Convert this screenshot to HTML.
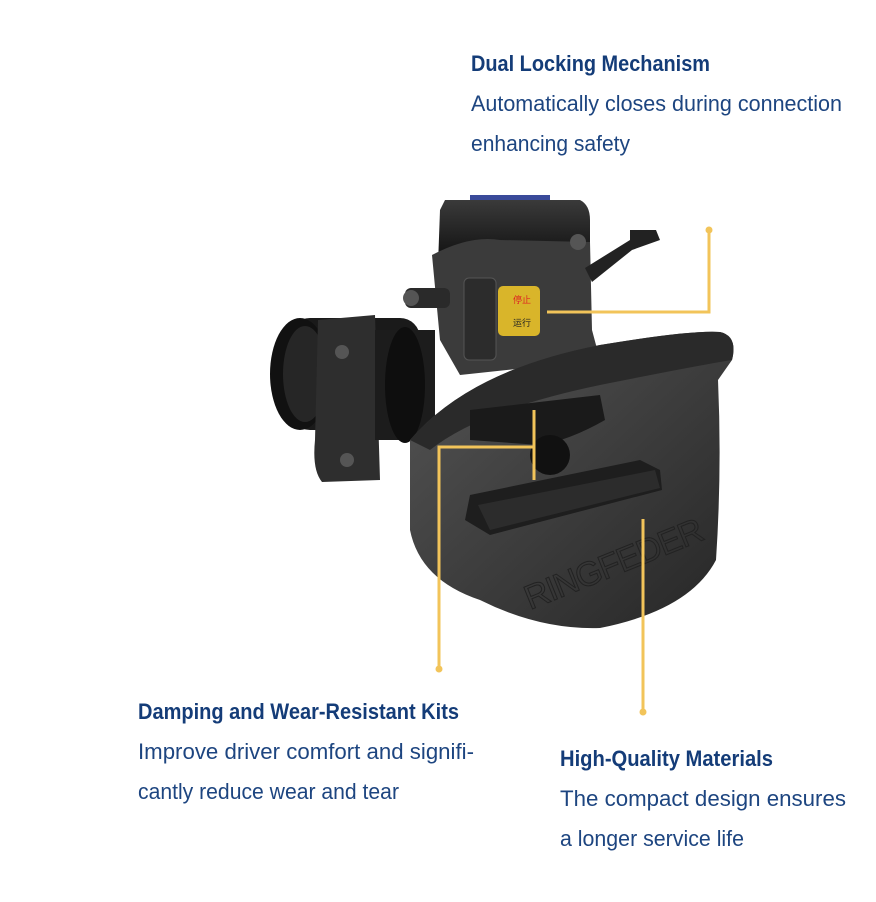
<!DOCTYPE html>
<html><head><meta charset="utf-8"><style>
html,body{margin:0;padding:0;background:#fff;}
svg{display:block}
.h{font-family:"Liberation Sans",sans-serif;font-weight:bold;font-size:22px;fill:#143c78}
.b{font-family:"Liberation Sans",sans-serif;font-size:22px;fill:#1d4580}
</style></head><body>
<svg width="876" height="902" viewBox="0 0 876 902" xmlns="http://www.w3.org/2000/svg">
<defs>
<linearGradient id="g1" x1="0" y1="0" x2="1" y2="1"><stop offset="0" stop-color="#555"/><stop offset="1" stop-color="#262626"/></linearGradient>
<linearGradient id="g2" x1="0" y1="0" x2="0" y2="1"><stop offset="0" stop-color="#3a3a3a"/><stop offset="1" stop-color="#0d0d0d"/></linearGradient>
</defs>
<rect x="290" y="318" width="130" height="112" rx="20" fill="#1a1a1a"/>
<ellipse cx="300" cy="374" rx="30" ry="56" fill="#111"/>
<ellipse cx="305" cy="374" rx="22" ry="48" fill="#262626"/>
<path d="M318 320 L375 315 L380 480 L322 482 Q312 470 315 440 L318 320Z" fill="#2e2e2e"/>
<circle cx="342" cy="352" r="7" fill="#555"/><circle cx="347" cy="460" r="7" fill="#555"/>
<rect x="375" y="330" width="60" height="110" fill="#1c1c1c"/>
<ellipse cx="405" cy="385" rx="20" ry="58" fill="#0e0e0e"/>
<path d="M445 200 L580 200 Q590 205 590 220 L590 260 L438 265 L440 210Z" fill="url(#g2)"/>
<rect x="470" y="195" width="80" height="5" fill="#3a4a9a"/>
<path d="M432 255 Q470 235 500 240 L590 242 L592 330 L600 360 L460 375 L440 340Z" fill="#3b3b3b"/>
<path d="M585 268 L630 240 L630 230 L656 230 L660 240 L632 250 L592 282Z" fill="#222"/>
<circle cx="578" cy="242" r="8" fill="#555"/>
<rect x="405" y="288" width="45" height="20" rx="6" fill="#2a2a2a"/>
<circle cx="411" cy="298" r="8" fill="#555"/>
<rect x="464" y="278" width="32" height="82" rx="5" fill="#2c2c2c" stroke="#555"/>
<rect x="498" y="286" width="42" height="50" rx="5" fill="#d9b52a"/>
<text x="513" y="303" font-family="Noto Sans CJK SC,sans-serif" font-size="9" fill="#d22">停止</text>
<text x="513" y="326" font-family="Noto Sans CJK SC,sans-serif" font-size="9" fill="#222">运行</text>
<path d="M410 440 Q470 370 600 345 Q690 330 720 332 Q738 336 732 360 L718 380 Q722 470 716 560 Q690 610 600 628 Q540 630 480 600 Q420 580 410 530Z" fill="url(#g1)"/>
<path d="M410 440 Q470 370 600 345 Q690 330 720 332 Q738 336 732 360 Q700 365 600 385 Q480 410 430 450Z" fill="#2a2a2a"/>
<path d="M470 410 L600 395 L605 420 Q570 440 540 445 L470 440Z" fill="#1a1a1a"/>
<circle cx="550" cy="455" r="20" fill="#111"/>
<path d="M470 495 L640 460 L660 470 L662 490 L490 535 L465 520Z" fill="#1e1e1e"/>
<path d="M478 505 L655 470 L660 488 L490 530Z" fill="#2c2c2c"/>
<text x="530" y="610" transform="rotate(-22 530 610)" font-family="Liberation Sans,sans-serif" font-size="34" fill="none" stroke="#222" stroke-width="1" textLength="190">RINGFEDER</text>
<g stroke="#f2c45a" stroke-width="3" fill="none">
<path d="M547 312 L709 312 L709 230"/>
<path d="M534 410 L534 480 M534 447 L439 447 L439 669"/>
<path d="M643 519 L643 712"/>
</g>
<g fill="#f2c45a"><circle cx="709" cy="230" r="3.5"/><circle cx="439" cy="669" r="3.5"/><circle cx="643" cy="712" r="3.5"/></g>
<text class="h" x="471" y="71" textLength="239" lengthAdjust="spacingAndGlyphs">Dual Locking Mechanism</text>
<text class="b" x="471" y="111" textLength="371" lengthAdjust="spacingAndGlyphs">Automatically closes during connection</text>
<text class="b" x="471" y="151" textLength="159" lengthAdjust="spacingAndGlyphs">enhancing safety</text>
<text class="h" x="138" y="719" textLength="321" lengthAdjust="spacingAndGlyphs">Damping and Wear-Resistant Kits</text>
<text class="b" x="138" y="759" textLength="336" lengthAdjust="spacingAndGlyphs">Improve driver comfort and signifi-</text>
<text class="b" x="138" y="799" textLength="261" lengthAdjust="spacingAndGlyphs">cantly reduce wear and tear</text>
<text class="h" x="560" y="766" textLength="213" lengthAdjust="spacingAndGlyphs">High-Quality Materials</text>
<text class="b" x="560" y="806" textLength="286" lengthAdjust="spacingAndGlyphs">The compact design ensures</text>
<text class="b" x="560" y="846" textLength="184" lengthAdjust="spacingAndGlyphs">a longer service life</text>
</svg>
</body></html>
